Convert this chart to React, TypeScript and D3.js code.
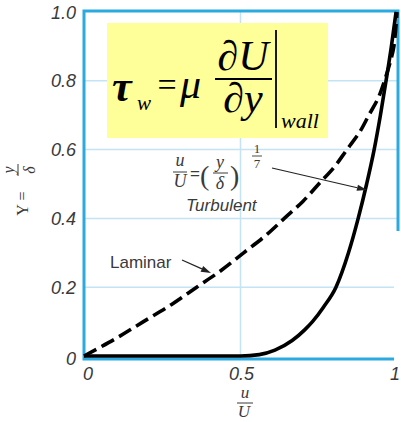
import React from "react";
import * as d3 from "d3";

// Velocity profiles in a boundary layer: u/U against Y = y/δ
const laminarU = [0, 0.1, 0.19, 0.28, 0.36, 0.44, 0.51, 0.58, 0.64, 0.7, 0.75, 0.8, 0.84, 0.88, 0.91, 0.94, 0.96, 0.98, 0.99, 1.0];
const laminarY = [0, 0.05, 0.1, 0.15, 0.2, 0.25, 0.3, 0.35, 0.4, 0.45, 0.5, 0.55, 0.6, 0.65, 0.7, 0.75, 0.8, 0.86, 0.9, 1.0];

const turbulentU = [0, 0.25, 0.5, 0.56, 0.61, 0.665, 0.705, 0.73, 0.765, 0.805, 0.845, 0.876, 0.903, 0.927, 0.947, 0.965, 0.982, 0.997];
const turbulentY = [0, 0, 0, 0.004, 0.017, 0.045, 0.076, 0.1, 0.142, 0.2, 0.3, 0.4, 0.5, 0.6, 0.7, 0.8, 0.9, 1.0];

const yTicks = [0, 0.2, 0.4, 0.6, 0.8, 1.0];
const yTickLabels = ["0", "0.2", "0.4", "0.6", "0.8", "1.0"];
const xTicks = [0, 0.5, 1];
const xTickLabels = ["0", "0.5", "1"];
const yGrid = [0.2, 0.4, 0.6, 0.8];
const xGrid = [0.5];

const W = 401;
const H = 422;
const BLUE = "#2aaae0";
const GRID = "#c4e3f4";
const INK = "#3a3a3a";

function Arrow({ x1, y1, x2, y2 }: { x1: number; y1: number; x2: number; y2: number }) {
  const ang = Math.atan2(y2 - y1, x2 - x1);
  const len = 10;
  const half = 3.2;
  const bx = x2 - len * Math.cos(ang);
  const by = y2 - len * Math.sin(ang);
  const px = -Math.sin(ang) * half;
  const py = Math.cos(ang) * half;
  return (
    <g>
      <line x1={x1} y1={y1} x2={bx} y2={by} stroke="#222" strokeWidth={1.2} />
      <path d={`M${x2},${y2}L${bx + px},${by + py}L${bx - px},${by - py}Z`} fill="#222" />
    </g>
  );
}

export default function App() {
  const x = d3.scaleLinear().domain([0, 1]).range([84, 397]);
  const y = d3.scaleLinear().domain([0, 1]).range([356, 12]);

  const laminarLine = d3
    .line<[number, number]>()
    .x((d) => x(d[0]))
    .y((d) => y(d[1]))
    .curve(d3.curveCatmullRom.alpha(0.5));

  const turbulentLine = d3
    .line<[number, number]>()
    .x((d) => x(d[0]))
    .y((d) => y(d[1]))
    .curve(d3.curveMonotoneX);

  const laminarPath = laminarLine(laminarU.map((u, i) => [u, laminarY[i]] as [number, number]));
  const turbulentPath = turbulentLine(turbulentU.map((u, i) => [u, turbulentY[i]] as [number, number]));

  const serif = "'Liberation Serif', 'Times New Roman', serif";
  const sans = "'Liberation Sans', Arial, sans-serif";

  return (
    <svg
      width={W}
      height={H}
      viewBox={`0 0 ${W} ${H}`}
      style={{ position: "absolute", left: 0, top: 0, background: "#fff" }}
    >
      <rect x={0} y={0} width={W} height={H} fill="#fff" />

      {/* grid */}
      {yGrid.map((v) => (
        <line key={"gy" + v} x1={x(0)} x2={398} y1={y(v)} y2={y(v)} stroke={GRID} strokeWidth={1.5} />
      ))}
      {xGrid.map((v) => (
        <line key={"gx" + v} x1={x(v)} x2={x(v)} y1={11} y2={359} stroke={GRID} strokeWidth={1.5} />
      ))}

      {/* frame */}
      <rect x={84} y={11} width={314} height={348} fill="none" stroke={BLUE} strokeWidth={3} />

      {/* panel cut on the right edge */}
      <rect x={394} y={231} width={10} height={131} fill="#fff" />

      {/* wall shear stress formula */}
      <rect x={107} y={23} width={221} height={115} fill="#ffff99" />
      <text x={112} y={101} fontFamily={serif} fontStyle="italic" fontWeight="bold" fontSize={44} fill="#000">τ</text>
      <text x={137} y={110} fontFamily={serif} fontStyle="italic" fontSize={21} fill="#000">w</text>
      <text x={167} y={96} fontFamily={serif} fontSize={34} textAnchor="middle" fill="#000">=</text>
      <text x={180} y={98} fontFamily={serif} fontStyle="italic" fontSize={42} fill="#000">μ</text>
      <text x={243} y={70} fontFamily={serif} fontStyle="italic" fontSize={42} textAnchor="middle" fill="#000">∂U</text>
      <line x1={215} x2={272} y1={79} y2={79} stroke="#000" strokeWidth={1.8} />
      <text x={243} y={112} fontFamily={serif} fontStyle="italic" fontSize={42} textAnchor="middle" fill="#000">∂y</text>
      <line x1={276} x2={276} y1={30} y2={128} stroke="#000" strokeWidth={1.8} />
      <text x={281} y={128} fontFamily={serif} fontStyle="italic" fontSize={22} fill="#000">wall</text>

      {/* curves */}
      <path d={laminarPath ?? ""} fill="none" stroke="#000" strokeWidth={3.6} strokeDasharray="14 6" />
      <path d={turbulentPath ?? ""} fill="none" stroke="#000" strokeWidth={3.6} strokeLinejoin="round" />

      {/* y ticks */}
      {yTicks.map((v, i) => (
        <text
          key={"yt" + v}
          x={76}
          y={y(v) + 6.5 + (v === 0 ? 2 : 0)}
          textAnchor="end"
          fontFamily={sans}
          fontStyle="italic"
          fontSize={18}
          fill={INK}
        >
          {yTickLabels[i]}
        </text>
      ))}

      {/* x ticks */}
      {xTicks.map((v, i) => (
        <text
          key={"xt" + v}
          x={x(v) + (v === 0 ? 4 : v === 1 ? -2 : 1)}
          y={380}
          textAnchor="middle"
          fontFamily={sans}
          fontStyle="italic"
          fontSize={18}
          fill={INK}
        >
          {xTickLabels[i]}
        </text>
      ))}

      {/* x axis title u/U */}
      <text x={245} y={398} textAnchor="middle" fontFamily={serif} fontStyle="italic" fontSize={17} fill={INK}>u</text>
      <line x1={237} x2={253} y1={403} y2={403} stroke={INK} strokeWidth={1} />
      <text x={244} y={417} textAnchor="middle" fontFamily={serif} fontStyle="italic" fontSize={17} fill={INK}>U</text>

      {/* y axis title Y = y/δ */}
      <g transform="translate(28,190) rotate(-90)">
        <text x={-20} y={0} textAnchor="middle" fontFamily={serif} fontSize={16} fill={INK}>Y</text>
        <text x={-6} y={0} textAnchor="middle" fontFamily={serif} fontSize={16} fill={INK}>=</text>
        <text x={20} y={-14} textAnchor="middle" fontFamily={serif} fontStyle="italic" fontSize={16} fill={INK}>y</text>
        <line x1={14} x2={26} y1={-10} y2={-10} stroke={INK} strokeWidth={1} />
        <text x={20} y={7} textAnchor="middle" fontFamily={serif} fontStyle="italic" fontSize={16} fill={INK}>δ</text>
      </g>

      {/* laminar label */}
      <text x={110} y={268} fontFamily={sans} fontSize={17} fill={INK}>Laminar</text>
      <Arrow x1={182} y1={260} x2={211} y2={273} />

      {/* turbulent label: u/U = (y/δ)^(1/7) */}
      <text x={180} y={166} textAnchor="middle" fontFamily={serif} fontStyle="italic" fontSize={18} fill={INK}>u</text>
      <line x1={173} x2={187} y1={172} y2={172} stroke={INK} strokeWidth={1} />
      <text x={180} y={187} textAnchor="middle" fontFamily={serif} fontStyle="italic" fontSize={18} fill={INK}>U</text>
      <text x={195} y={179} textAnchor="middle" fontFamily={sans} fontSize={17} fill={INK}>=</text>
      <text x={200} y={185} fontFamily={serif} fontSize={28} fill={INK}>(</text>
      <text x={220} y={168} textAnchor="middle" fontFamily={serif} fontStyle="italic" fontSize={18} fill={INK}>y</text>
      <line x1={213} x2={228} y1={173} y2={173} stroke={INK} strokeWidth={1} />
      <text x={220} y={189} textAnchor="middle" fontFamily={serif} fontStyle="italic" fontSize={18} fill={INK}>δ</text>
      <text x={230} y={185} fontFamily={serif} fontSize={28} fill={INK}>)</text>
      <text x={257} y={153} textAnchor="middle" fontFamily={serif} fontSize={13} fill={INK}>1</text>
      <line x1={252} x2={262} y1={156} y2={156} stroke={INK} strokeWidth={0.9} />
      <text x={257} y={168} textAnchor="middle" fontFamily={serif} fontSize={13} fill={INK}>7</text>
      <text x={186} y={211} fontFamily={sans} fontStyle="italic" fontSize={17} fill={INK}>Turbulent</text>
      <Arrow x1={272} y1={168} x2={367} y2={190} />
    </svg>
  );
}
